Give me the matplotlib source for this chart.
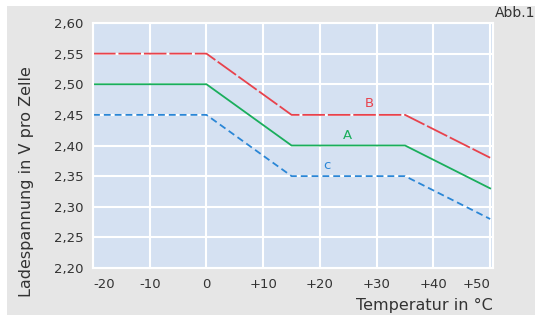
import matplotlib
matplotlib.use("Agg")
import matplotlib.pyplot as plt
from matplotlib.patches import Rectangle

# Data
temps = [-20, 0, 15, 35, 50]
curve_B = [2.55, 2.55, 2.45, 2.45, 2.38]
curve_A = [2.50, 2.50, 2.40, 2.40, 2.33]
curve_C = [2.45, 2.45, 2.35, 2.35, 2.28]
x_ticks = [-20, -10, 0, 10, 20, 30, 40, 50]
x_tick_labels = ["-20", "-10", "0", "+10", "+20", "+30", "+40", "+50"]
y_ticks = [2.20, 2.25, 2.30, 2.35, 2.40, 2.45, 2.50, 2.55, 2.60]
y_tick_labels = ["2,20", "2,25", "2,30", "2,35", "2,40", "2,45", "2,50", "2,55", "2,60"]

plt.rcParams['font.family'] = ['DejaVu Sans']
W, H = 535, 318
fig = plt.figure(figsize=(W / 100, H / 100), dpi=100)
fig.patch.set_facecolor('white')

# gray panel
fig.patches.append(Rectangle((7 / W, 1 - 315 / H), (W - 7) / W, (315 - 6) / H,
                             transform=fig.transFigure, facecolor='#e6e6e6',
                             edgecolor='none', zorder=-10))

ax = fig.add_axes([93 / W, 1 - 268 / H, (493 - 93) / W, (268 - 23) / H])
ax.set_zorder(5)
ax.set_facecolor('#d5e1f2')
ax.set_xlim(-20, 50.5)
ax.set_ylim(2.20, 2.60)
ax.set_xticks(x_ticks)
ax.set_xticklabels(x_tick_labels)
ax.set_yticks(y_ticks)
ax.set_yticklabels(y_tick_labels)
ax.grid(True, color='white', linewidth=1.5)
ax.set_axisbelow(True)
for s in ax.spines.values():
    s.set_color('white')
    s.set_linewidth(1.5)
ax.tick_params(length=0, labelsize=9.5, colors='#333333', pad=7)
xl = ax.get_xticklabels()
xl[0].set_ha('left')
xl[-1].set_ha('right')

lw = 1.3
ax.plot(temps, curve_B, color='#e8424c', lw=lw, dashes=(12.5, 1.6))
ax.plot(temps, curve_A, color='#1aae5c', lw=lw)
ax.plot(temps, curve_C, color='#2a86d6', lw=lw, dashes=(3.8, 2.2))

ax.text(28.7, 2.468, "B", color='#e8424c', fontsize=9.5, ha='center', va='center')
ax.text(24.9, 2.417, "A", color='#1aae5c', fontsize=9.5, ha='center', va='center')
ax.text(21.2, 2.368, "c", color='#2a86d6', fontsize=9.5, ha='center', va='center')

fig.text(493 / W, 1 - 305 / H, "Temperatur in °C", fontsize=11.5, color='#333333',
         ha='right', va='center', zorder=6)
fig.text(27 / W, 1 - 182 / H, "Ladespannung in V pro Zelle", fontsize=11.5,
         color='#333333', rotation=90, ha='center', va='center', zorder=6)
fig.text(535 / W, 1 - 13 / H, "Abb.1", fontsize=10, color='#333333',
         ha='right', va='center', zorder=6)

fig.savefig("out.png", dpi=100)
